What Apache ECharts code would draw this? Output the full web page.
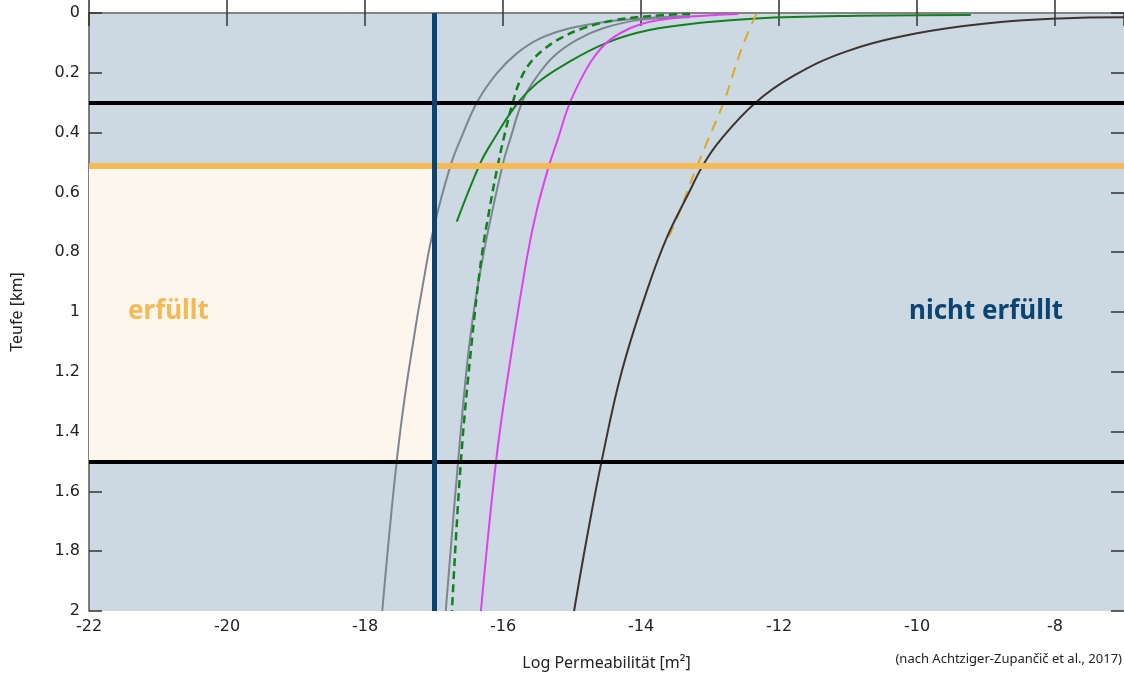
<!DOCTYPE html>
<html>
<head>
<meta charset="utf-8">
<script src="https://cdn.jsdelivr.net/npm/echarts@6/dist/echarts.min.js"></script>
<style>
  html, body { margin: 0; padding: 0; background: #fff; }
  #chart { width: 1124px; height: 674px; }
</style>
</head>
<body>
<div id="chart"></div>
<script>
// depth profiles [log k, depth km]
const grayA = [[-13.29, 0.010], [-14.01, 0.018], [-14.50, 0.029], [-15.03, 0.051], [-15.46, 0.085], [-15.80, 0.135], [-16.09, 0.202], [-16.37, 0.296], [-16.62, 0.425], [-16.75, 0.503], [-16.94, 0.659], [-17.09, 0.815], [-17.37, 1.2], [-17.54, 1.498], [-17.75, 2.0]]
const grayB = [[-13.29, 0.014], [-14.01, 0.023], [-14.55, 0.051], [-14.93, 0.090], [-15.27, 0.146], [-15.51, 0.213], [-15.71, 0.291], [-15.90, 0.425], [-16.0, 0.503], [-16.29, 0.815], [-16.48, 1.094], [-16.65, 1.498], [-16.83, 2.0]]
const greenDash = [[-13.29, 0.003], [-13.68, 0.007], [-14.35, 0.023], [-14.84, 0.051], [-15.17, 0.085], [-15.42, 0.124], [-15.61, 0.168], [-15.75, 0.224], [-15.86, 0.300], [-15.97, 0.400], [-16.07, 0.503], [-16.19, 0.648], [-16.31, 0.815], [-16.45, 1.094], [-16.61, 1.498], [-16.74, 2.0]]
const greenSolid = [[-9.22, 0.007], [-11.03, 0.010], [-12.33, 0.018], [-13.10, 0.032], [-13.88, 0.057], [-14.50, 0.100], [-15.12, 0.174], [-15.51, 0.235], [-15.80, 0.305], [-16.14, 0.425], [-16.33, 0.503], [-16.67, 0.698]]
const magenta = [[-12.59, 0.003], [-13.29, 0.012], [-13.87, 0.029], [-14.16, 0.051], [-14.45, 0.090], [-14.64, 0.135], [-14.80, 0.191], [-15.03, 0.300], [-15.21, 0.425], [-15.33, 0.508], [-15.51, 0.659], [-15.65, 0.815], [-15.92, 1.2], [-16.10, 1.498], [-16.32, 2.0]]
const yellowDash = [[-12.33, 0.004], [-12.55, 0.124], [-12.79, 0.291], [-13.05, 0.436], [-13.21, 0.525], [-13.47, 0.681], [-13.62, 0.760]]
const brown = [[-7.0, 0.014], [-7.93, 0.018], [-8.96, 0.034], [-10.0, 0.068], [-11.03, 0.129], [-11.81, 0.213], [-12.35, 0.302], [-12.85, 0.425], [-13.10, 0.508], [-13.31, 0.603], [-13.62, 0.748], [-13.91, 0.926], [-14.28, 1.2], [-14.57, 1.498], [-14.78, 1.75], [-14.97, 2.0]]

// limits
const blackDepths = [0.3, 1.5]
const orangeDepth = 0.51
const kLimit = -17
const okArea = [[-22, 0.51], [-17, 1.5]]

let myChart = echarts.init(document.getElementById('chart'))

function curve(data, color, width, dash) {
    return {
        type: 'line',
        data: data,
        smooth: 0.4,
        symbol: 'none',
        lineStyle: { color: color, width: width, type: dash || 'solid' },
        z: 3
    }
}

let tickStyle = { show: true, inside: true, length: 13, lineStyle: { color: '#333', width: 1.5 } }

let option = {
    animation: false,
    grid: { left: 89, right: 0, top: 13, bottom: 63, outerBoundsMode: 'none', show: true, backgroundColor: '#cdd9e2', borderWidth: 0 },
    xAxis: [{
        type: 'value', min: -22, max: -7, interval: 2,
        axisLine: { lineStyle: { color: '#555', width: 1.5 } },
        axisTick: tickStyle,
        axisLabel: { showMaxLabel: false, color: '#222', fontSize: 16, fontFamily: 'DejaVu Sans', margin: 8 },
        splitLine: { show: false },
        name: 'Log Permeabilität [m²]', nameLocation: 'middle', nameGap: 44,
        nameTextStyle: { color: '#222', fontSize: 16, fontFamily: 'Noto Sans' }
    }, {
        type: 'value', min: -22, max: -7, interval: 2, position: 'top',
        axisLine: { lineStyle: { color: '#888', width: 1.5 } },
        axisTick: tickStyle, axisLabel: { show: false }, splitLine: { show: false }
    }],
    yAxis: [{
        type: 'value', min: 0, max: 2, interval: 0.2, inverse: true,
        axisLine: { show: true, lineStyle: { color: '#555', width: 1.5 } },
        axisTick: tickStyle,
        axisLabel: { color: '#222', fontSize: 16, fontFamily: 'DejaVu Sans', margin: 9 },
        splitLine: { show: false },
        name: 'Teufe [km]', nameLocation: 'middle', nameGap: 64, nameRotate: 90,
        nameTextStyle: { color: '#222', fontSize: 16, fontFamily: 'Noto Sans' }
    }, {
        type: 'value', min: 0, max: 2, interval: 0.2, inverse: true, position: 'right',
        axisLine: { show: false }, axisTick: tickStyle, axisLabel: { show: false }, splitLine: { show: false }
    }],
    series: [
        {
            type: 'line', data: [], symbol: 'none',
            markArea: {
                silent: true,
                itemStyle: { color: '#fdf6ec' },
                data: [[{ xAxis: okArea[0][0], yAxis: okArea[0][1] }, { xAxis: okArea[1][0], yAxis: okArea[1][1] }]]
            },
            z: 1
        },
        curve(grayA, '#7b8690', 2),
        curve(grayB, '#7b8690', 2),
        curve(greenDash, '#12801e', 2.5, [8, 5]),
        curve(greenSolid, '#12801e', 2),
        curve(magenta, '#e040f0', 2),
        curve(yellowDash, '#d8aa2a', 2, [11, 8]),
        curve(brown, '#3e3330', 2),
        {
            type: 'line', data: [], symbol: 'none', z: 5,
            markLine: {
                silent: true, symbol: 'none', label: { show: false },
                data: [
                    { yAxis: blackDepths[0], lineStyle: { color: '#000', width: 4, type: 'solid' } },
                    { yAxis: blackDepths[1], lineStyle: { color: '#000', width: 4, type: 'solid' } },
                    { yAxis: orangeDepth, lineStyle: { color: '#f5b955', width: 6, type: 'solid' } },
                    { xAxis: kLimit, lineStyle: { color: '#0b4470', width: 5, type: 'solid' } }
                ]
            }
        }
    ],
    graphic: [
        { type: 'text', z: 100, left: 128, top: 299, style: { text: 'erfüllt', fill: '#f5b955', font: 'bold 26px "Noto Sans"' } },
        { type: 'text', z: 100, left: 909, top: 299, style: { text: 'nicht erfüllt', fill: '#0b4470', font: 'bold 26px "Noto Sans"' } },
        { type: 'text', z: 100, right: 2, top: 653, style: { text: '(nach Achtziger-Zupančič et al., 2017)', fill: '#222', font: '13px "Noto Sans"' } }
    ]
}
myChart.setOption(option)
</script>
</body>
</html>
